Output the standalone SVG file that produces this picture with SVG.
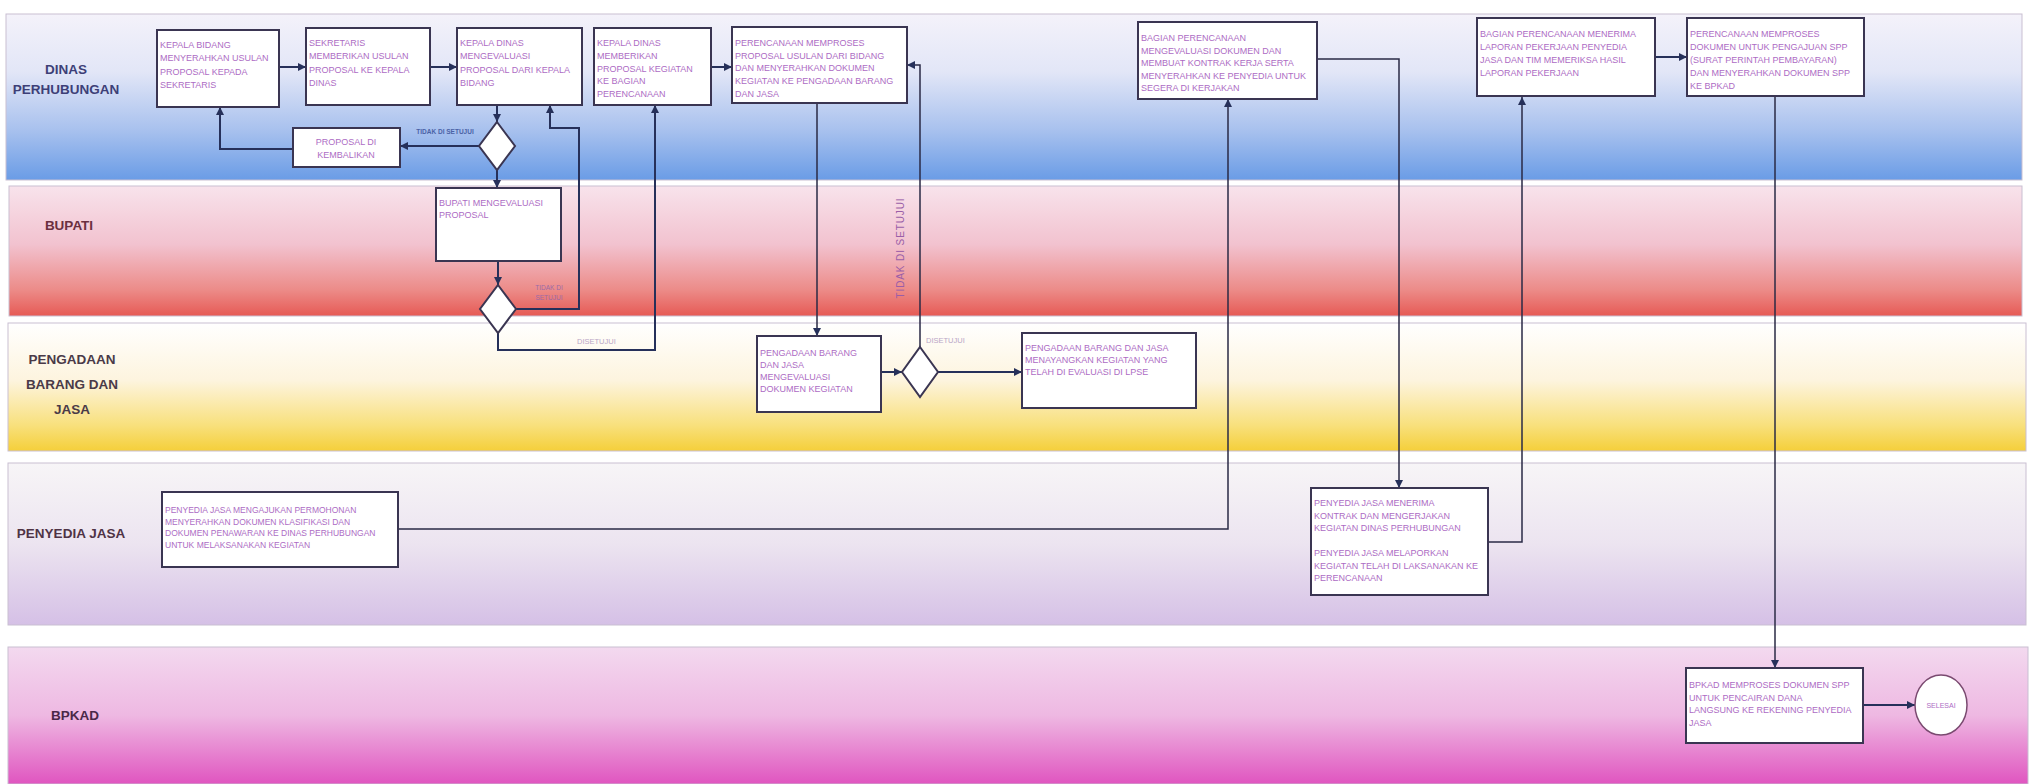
<svg xmlns="http://www.w3.org/2000/svg" width="2033" height="784" viewBox="0 0 2033 784">
<defs>
<linearGradient id="gDinas" x1="0" y1="0" x2="0" y2="1">
<stop offset="0" stop-color="#f4f2fa"/><stop offset="0.35" stop-color="#e2e6f7"/><stop offset="0.7" stop-color="#a8c1ee"/><stop offset="1" stop-color="#6a9ce6"/>
</linearGradient>
<linearGradient id="gBupati" x1="0" y1="0" x2="0" y2="1">
<stop offset="0" stop-color="#f8e3ec"/><stop offset="0.45" stop-color="#f2c2cf"/><stop offset="0.8" stop-color="#ec8b88"/><stop offset="1" stop-color="#e65a55"/>
</linearGradient>
<linearGradient id="gPeng" x1="0" y1="0" x2="0" y2="1">
<stop offset="0" stop-color="#ffffff"/><stop offset="0.45" stop-color="#fdf4de"/><stop offset="0.8" stop-color="#f8e07c"/><stop offset="1" stop-color="#f5cf3a"/>
</linearGradient>
<linearGradient id="gPeny" x1="0" y1="0" x2="0" y2="1">
<stop offset="0" stop-color="#f7f5f7"/><stop offset="0.5" stop-color="#ece4f0"/><stop offset="1" stop-color="#d5c0e6"/>
</linearGradient>
<linearGradient id="gBpkad" x1="0" y1="0" x2="0" y2="1">
<stop offset="0" stop-color="#f3d9ef"/><stop offset="0.5" stop-color="#eeb8e2"/><stop offset="1" stop-color="#e055c0"/>
</linearGradient>
<marker id="ah" viewBox="0 0 10 10" refX="10" refY="5" markerWidth="9" markerHeight="8" markerUnits="userSpaceOnUse" orient="auto">
<path d="M0,0 L10,5 L0,10 z" fill="#26305a"/>
</marker>
</defs>
<style>
.lane{stroke:#c9bfd2;stroke-width:1}
.lbl{font-family:"Liberation Sans",Arial,sans-serif;font-weight:bold;font-size:13.5px;text-anchor:middle}
.box{fill:#ffffff;stroke:#3a3552;stroke-width:2}
.t{font-family:"Liberation Sans",Arial,sans-serif;font-size:9px;fill:#ad6cc4}
.ts{font-family:"Liberation Sans",Arial,sans-serif;font-size:8.5px;fill:#ad6cc4}
.dia{fill:#ffffff;stroke:#3a3552;stroke-width:2}
.c{fill:none;stroke:#26305a;stroke-width:2;marker-end:url(#ah)}
.cl{fill:none;stroke:#2a2a45;stroke-width:1.5;marker-end:url(#ah)}
.el{font-family:"Liberation Sans",Arial,sans-serif;font-size:6.5px;font-weight:bold;fill:#4a62a6;text-anchor:middle}
.ok{font-family:"Liberation Sans",Arial,sans-serif;font-size:7.5px;fill:#b9a6c6}
</style>
<rect width="2033" height="784" fill="#ffffff"/>
<g id="lanes">
<rect class="lane" x="6" y="14" width="2016" height="166" fill="url(#gDinas)"/>
<rect class="lane" x="9" y="186" width="2013" height="130" fill="url(#gBupati)"/>
<rect class="lane" x="8" y="323" width="2018" height="128" fill="url(#gPeng)"/>
<rect class="lane" x="8" y="463" width="2018" height="162" fill="url(#gPeny)"/>
<rect class="lane" x="8" y="647" width="2020" height="137" fill="url(#gBpkad)"/>
<text class="lbl" x="66" y="74" fill="#3d3f77">DINAS</text>
<text class="lbl" x="66" y="94" fill="#3d3f77">PERHUBUNGAN</text>
<text class="lbl" x="69" y="230" fill="#6b2f3f">BUPATI</text>
<text class="lbl" x="72" y="364" fill="#4a3a48">PENGADAAN</text>
<text class="lbl" x="72" y="389" fill="#4a3a48">BARANG DAN</text>
<text class="lbl" x="72" y="414" fill="#4a3a48">JASA</text>
<text class="lbl" x="71" y="538" fill="#4f3345">PENYEDIA JASA</text>
<text class="lbl" x="75" y="720" fill="#4a2848">BPKAD</text>
</g>
<g id="connectors">
<path class="c" d="M279,67 H306"/>
<path class="c" d="M430,67 H457"/>
<path class="c" d="M497,105 V122"/>
<path class="c" d="M479,146 H400"/>
<text class="el" x="445" y="134">TIDAK DI SETUJUI</text>
<path class="c" d="M293,149 H220 V107"/>
<path class="c" d="M497,170 V188"/>
<path class="c" d="M498,261 V285"/>
<path class="c" d="M516,309 H579 V128 H550 V105"/>
<text class="el" x="549" y="290" style="fill:#9a6aa8;font-weight:normal">TIDAK DI</text>
<text class="el" x="549" y="300" style="fill:#9a6aa8;font-weight:normal">SETUJUI</text>
<path class="c" d="M498,333 V350 H655 V105"/>
<text class="ok" x="577" y="344">DISETUJUI</text>
<path class="c" d="M711,67 H732"/>
<path class="cl" d="M817,103 V336"/>
<path class="c" d="M881,372 H902"/>
<path class="cl" d="M920,347 V65 H907"/>
<text x="904" y="248" transform="rotate(-90 904 248)" style="font-family:'Liberation Sans',Arial,sans-serif;font-size:10px;letter-spacing:0.9px;fill:#9a5ea8;text-anchor:middle">TIDAK DI SETUJUI</text>
<path class="c" d="M938,372 H1022"/>
<text class="ok" x="926" y="343">DISETUJUI</text>
<path class="cl" d="M398,529 H1228 V99"/>
<path class="cl" d="M1317,59 H1399 V488"/>
<path class="cl" d="M1488,542 H1522 V97"/>
<path class="c" d="M1655,57 H1687"/>
<path class="cl" d="M1775,96 V668"/>
<path class="c" d="M1863,705 H1915"/>
</g>
<g id="n1">
<rect class="box" x="157" y="30" width="122" height="77"/>
<text class="t" x="160" y="48">KEPALA BIDANG</text>
<text class="t" x="160" y="61.3">MENYERAHKAN USULAN</text>
<text class="t" x="160" y="74.6">PROPOSAL KEPADA</text>
<text class="t" x="160" y="88">SEKRETARIS</text>
</g>
<g id="n2">
<rect class="box" x="306" y="28" width="124" height="77"/>
<text class="t" x="309" y="46">SEKRETARIS</text>
<text class="t" x="309" y="59.3">MEMBERIKAN USULAN</text>
<text class="t" x="309" y="72.6">PROPOSAL KE KEPALA</text>
<text class="t" x="309" y="86">DINAS</text>
</g>
<g id="n3">
<rect class="box" x="457" y="28" width="125" height="77"/>
<text class="t" x="460" y="46">KEPALA DINAS</text>
<text class="t" x="460" y="59.3">MENGEVALUASI</text>
<text class="t" x="460" y="72.6">PROPOSAL DARI KEPALA</text>
<text class="t" x="460" y="86">BIDANG</text>
</g>
<g id="n4">
<rect class="box" x="594" y="28" width="117" height="77"/>
<text class="t" x="597" y="46">KEPALA DINAS</text>
<text class="t" x="597" y="58.8">MEMBERIKAN</text>
<text class="t" x="597" y="71.6">PROPOSAL KEGIATAN</text>
<text class="t" x="597" y="84.4">KE BAGIAN</text>
<text class="t" x="597" y="97.2">PERENCANAAN</text>
</g>
<g id="n5">
<rect class="box" x="732" y="27" width="175" height="76"/>
<text class="t" x="735" y="46">PERENCANAAN MEMPROSES</text>
<text class="t" x="735" y="58.7">PROPOSAL USULAN DARI BIDANG</text>
<text class="t" x="735" y="71.4">DAN MENYERAHKAN DOKUMEN</text>
<text class="t" x="735" y="84.1">KEGIATAN KE PENGADAAN BARANG</text>
<text class="t" x="735" y="96.8">DAN JASA</text>
</g>
<g id="n-kembali">
<rect class="box" x="293" y="128" width="107" height="39"/>
<text class="t" x="346" y="145" text-anchor="middle">PROPOSAL DI</text>
<text class="t" x="346" y="158" text-anchor="middle">KEMBALIKAN</text>
</g>
<g id="d1">
<polygon class="dia" points="497,122 515,146 497,170 479,146"/>
</g>
<g id="n-bupati">
<rect class="box" x="436" y="188" width="125" height="73"/>
<text class="t" x="439" y="206">BUPATI MENGEVALUASI</text>
<text class="t" x="439" y="218">PROPOSAL</text>
</g>
<g id="d2">
<polygon class="dia" points="498,285 516,309 498,333 480,309"/>
</g>
<g id="n-peng1">
<rect class="box" x="757" y="336" width="124" height="76"/>
<text class="t" x="760" y="356">PENGADAAN BARANG</text>
<text class="t" x="760" y="368">DAN JASA</text>
<text class="t" x="760" y="380">MENGEVALUASI</text>
<text class="t" x="760" y="392">DOKUMEN KEGIATAN</text>
</g>
<g id="d3">
<polygon class="dia" points="920,347 938,372 920,397 902,372"/>
</g>
<g id="n-peng2">
<rect class="box" x="1022" y="333" width="174" height="75"/>
<text class="t" x="1025" y="351">PENGADAAN BARANG DAN JASA</text>
<text class="t" x="1025" y="363">MENAYANGKAN KEGIATAN YANG</text>
<text class="t" x="1025" y="375">TELAH DI EVALUASI DI LPSE</text>
</g>
<g id="n6">
<rect class="box" x="1138" y="22" width="179" height="77"/>
<text class="t" x="1141" y="41">BAGIAN PERENCANAAN</text>
<text class="t" x="1141" y="53.5">MENGEVALUASI DOKUMEN DAN</text>
<text class="t" x="1141" y="66">MEMBUAT KONTRAK KERJA SERTA</text>
<text class="t" x="1141" y="78.5">MENYERAHKAN KE PENYEDIA UNTUK</text>
<text class="t" x="1141" y="91">SEGERA DI KERJAKAN</text>
</g>
<g id="n7">
<rect class="box" x="1477" y="18" width="178" height="78"/>
<text class="t" x="1480" y="37">BAGIAN PERENCANAAN MENERIMA</text>
<text class="t" x="1480" y="50">LAPORAN PEKERJAAN PENYEDIA</text>
<text class="t" x="1480" y="63">JASA DAN TIM MEMERIKSA HASIL</text>
<text class="t" x="1480" y="76">LAPORAN PEKERJAAN</text>
</g>
<g id="n8">
<rect class="box" x="1687" y="18" width="177" height="78"/>
<text class="t" x="1690" y="37">PERENCANAAN MEMPROSES</text>
<text class="t" x="1690" y="50">DOKUMEN UNTUK PENGAJUAN SPP</text>
<text class="t" x="1690" y="63">(SURAT PERINTAH PEMBAYARAN)</text>
<text class="t" x="1690" y="76">DAN MENYERAHKAN DOKUMEN SPP</text>
<text class="t" x="1690" y="89">KE BPKAD</text>
</g>
<g id="n-peny1">
<rect class="box" x="162" y="492" width="236" height="75"/>
<text class="ts" x="165" y="513">PENYEDIA JASA MENGAJUKAN PERMOHONAN</text>
<text class="ts" x="165" y="524.5">MENYERAHKAN DOKUMEN KLASIFIKASI DAN</text>
<text class="ts" x="165" y="536">DOKUMEN PENAWARAN KE DINAS PERHUBUNGAN</text>
<text class="ts" x="165" y="547.5">UNTUK MELAKSANAKAN KEGIATAN</text>
</g>
<g id="n-peny2">
<rect class="box" x="1311" y="488" width="177" height="107"/>
<text class="t" x="1314" y="506">PENYEDIA JASA MENERIMA</text>
<text class="t" x="1314" y="518.5">KONTRAK DAN MENGERJAKAN</text>
<text class="t" x="1314" y="531">KEGIATAN DINAS PERHUBUNGAN</text>
<text class="t" x="1314" y="556">PENYEDIA JASA  MELAPORKAN</text>
<text class="t" x="1314" y="568.5">KEGIATAN TELAH DI LAKSANAKAN KE</text>
<text class="t" x="1314" y="581">PERENCANAAN</text>
</g>
<g id="n-bpkad">
<rect class="box" x="1686" y="668" width="177" height="75"/>
<text class="t" x="1689" y="688">BPKAD MEMPROSES DOKUMEN SPP</text>
<text class="t" x="1689" y="700.7">UNTUK PENCAIRAN DANA</text>
<text class="t" x="1689" y="713.4">LANGSUNG KE REKENING PENYEDIA</text>
<text class="t" x="1689" y="726">JASA</text>
</g>
<g id="n-end">
<ellipse cx="1941" cy="705" rx="26" ry="30" fill="#ffffff" stroke="#7a4a70" stroke-width="1.5"/>
<text class="t" x="1941" y="708" text-anchor="middle" style="font-size:7px">SELESAI</text>
</g>
</svg>
